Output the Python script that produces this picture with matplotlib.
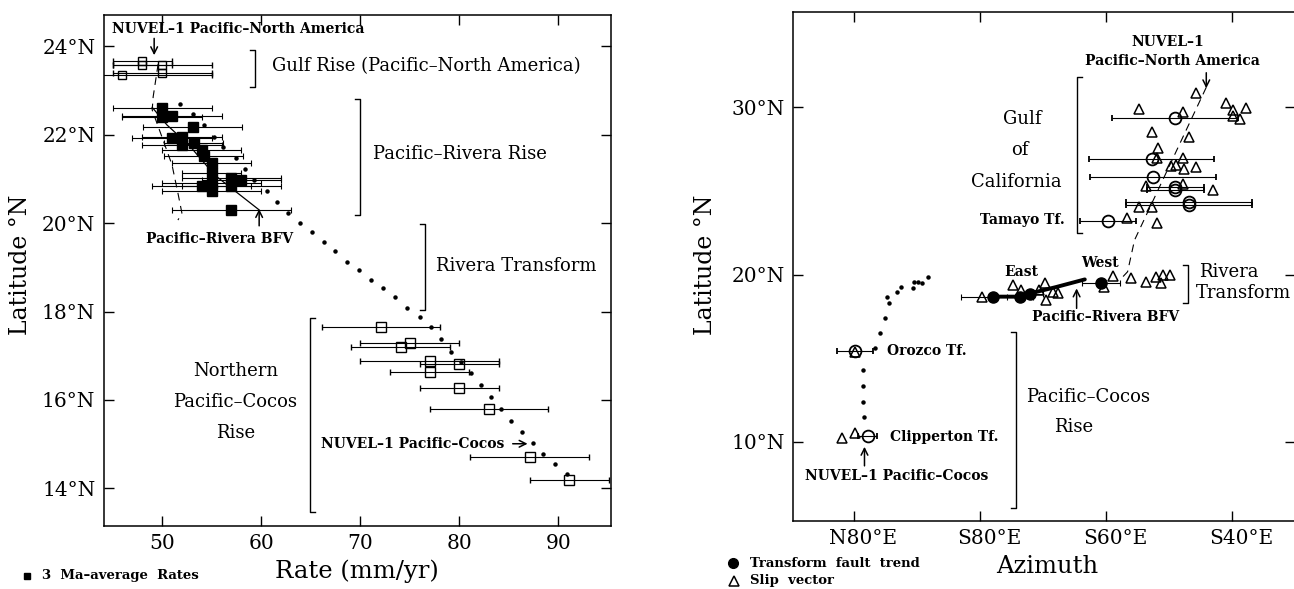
import matplotlib
matplotlib.use('Agg')
import matplotlib.pyplot as plt
import matplotlib.transforms as mtransforms
from matplotlib.lines import Line2D

plt.rcParams['font.family'] = 'DejaVu Serif'

#------------------------------------------------------------------------------
# Data: left panel (rate vs latitude)
#------------------------------------------------------------------------------

# Gulf Rise, open squares
gulf_rate = [48.0, 48.0, 50.0, 50.0, 46.0]
gulf_lat = [23.66, 23.58, 23.58, 23.39, 23.36]
gulf_err = [3, 3, 5, 5, 9]

# Pacific-Rivera Rise, 3 Ma-average rates (filled squares)
prr_rate = [50.0, 50.0, 51.0, 53.1, 51.0, 52.0, 52.0, 53.2, 54.0, 54.2,
            55.0, 55.0, 55.0, 55.0, 54.0, 57.0, 58.0, 57.0, 57.0]
prr_lat = [22.60, 22.41, 22.43, 22.17, 21.92, 21.96, 21.77, 21.81, 21.66, 21.51,
           21.36, 21.13, 20.91, 20.72, 20.83, 21.02, 20.98, 20.83, 20.30]
prr_err = [5, 4, 5, 5, 4, 4, 4, 3, 4, 4, 4, 3, 5, 5, 5, 5, 4, 5, 6]

# Northern Pacific-Cocos Rise, open squares
npc_rate = [72.1, 75.0, 74.1, 77.0, 77.0, 80.0, 80.0, 83.0, 87.1, 91.1]
npc_lat = [17.66, 17.29, 17.21, 16.88, 16.64, 16.82, 16.27, 15.80, 14.72, 14.19]
npc_err = [6, 5, 5, 7, 4, 4, 4, 6, 6, 4]

# NUVEL-1 Pacific-Cocos predicted rates (dots)
pc_rate = [51.8, 53.1, 54.2, 55.2, 56.2, 57.5, 58.4, 59.3, 60.6, 61.6, 62.7, 63.9,
           65.1, 66.3, 67.5, 68.7, 69.9, 71.1, 72.3, 73.5, 74.7, 76.0, 77.2, 78.2,
           79.2, 80.2, 81.2, 82.2, 83.2, 84.2, 85.2, 86.3, 87.4, 88.5, 89.7, 90.9]
pc_lat = [22.70, 22.47, 22.22, 21.96, 21.72, 21.47, 21.22, 20.98, 20.72, 20.47, 20.23, 20.01,
          19.81, 19.58, 19.36, 19.13, 18.93, 18.72, 18.53, 18.34, 18.08, 17.87, 17.65, 17.38,
          17.09, 16.85, 16.61, 16.33, 16.06, 15.79, 15.53, 15.27, 15.02, 14.78, 14.55, 14.33]

# NUVEL-1 Pacific-North America predicted rates (dashed)
pna_rate = [49.6, 49.1, 49.0, 50.1, 51.0, 51.6, 52.0, 51.6]
pna_lat = [23.60, 22.86, 22.56, 21.88, 21.32, 20.68, 20.23, 20.07]

# Pacific-Rivera best fitting vector (solid)
bfv_rate = [49.0, 50.5, 52.7, 55.3, 59.8]
bfv_lat = [22.62, 22.22, 21.77, 21.09, 20.30]

rate_ticks = [50, 60, 70, 80, 90]
lat_ticks_left = [14, 16, 18, 20, 22, 24]

#------------------------------------------------------------------------------
# Data: right panel (azimuth vs latitude)
#------------------------------------------------------------------------------

# Gulf of California slip vectors
gc_tri_az = [134.2, 125.2, 132.2, 139.1, 140.1, 142.2, 140.1, 141.2, 127.2, 133.1, 128.2, 128.0,
             132.2, 130.3, 131.1, 132.3, 134.2, 126.3, 132.2, 137.0, 125.2, 127.2, 123.3, 128.0]
gc_tri_lat = [30.87, 29.88, 29.74, 30.28, 29.84, 29.94, 29.48, 29.28, 28.54, 28.20, 27.55, 26.97,
              26.95, 26.49, 26.55, 26.29, 26.41, 25.30, 25.41, 25.05, 24.05, 24.05, 23.36, 23.06]

# Gulf of California transform fault trends (open circles)
gc_circ_az = [131.0, 127.2, 127.4, 131.0, 131.0, 133.2, 133.2, 120.3]
gc_circ_lat = [29.38, 26.90, 25.85, 25.25, 25.05, 24.35, 24.15, 23.19]
gc_circ_err = [10, 10, 10, 4.5, 4.5, 10, 10, 4.5]

# Rivera Transform fault trends (filled circles)
rt_circ_az = [102.0, 106.3, 107.9, 119.2]
rt_circ_lat = [18.68, 18.68, 18.86, 19.50]
rt_circ_err = [5, 2, 2, 3]

# Rivera Transform slip vectors
rt_tri_az = [100.2, 105.2, 106.5, 110.2, 109.4, 111.6, 112.3, 110.5,
             119.7, 121.1, 124.0, 126.4, 127.9, 129.0, 130.1, 128.7]
rt_tri_lat = [18.67, 19.37, 19.07, 19.51, 19.07, 18.97, 18.87, 18.47,
              19.27, 19.91, 19.77, 19.57, 19.87, 19.97, 19.97, 19.47]

# Pacific-Rivera BFV along the transform
rt_bfv_az = [102.0, 106.3, 108.0, 112.0, 116.6]
rt_bfv_lat = [18.68, 18.68, 18.88, 19.25, 19.71]

# Orozco and Clipperton transforms
pcr_circ_az = [80.1, 82.1]
pcr_circ_lat = [15.44, 10.34]
pcr_circ_err = [2.8, 1.5]
pcr_tri_az = [80.1, 78.0, 80.1]
pcr_tri_lat = [15.35, 10.20, 10.50]

# NUVEL-1 Pacific-Cocos predicted azimuths (dots)
track_az = [91.7, 90.7, 90.1, 89.5, 89.3, 87.4, 86.7, 85.1, 85.5, 84.9, 84.0, 83.3,
            81.4, 81.4, 81.4, 81.5]
track_lat = [19.87, 19.47, 19.57, 19.53, 19.17, 19.24, 18.97, 18.67, 18.28, 17.38, 16.52, 15.59,
             14.29, 13.33, 12.39, 11.49]

# NUVEL-1 Pacific-North America predicted azimuths (dashed)
pna_az = [135.9, 124.5, 123.4, 122.4]
pna_az_lat = [31.20, 22.06, 20.17, 19.77]

az_ticks = [80, 100, 120, 140]
az_labels = ['N80°E', 'S80°E', 'S60°E', 'S40°E']
lat_ticks_right = [10, 20, 30]


def bracket(ax, x, y0, y1, stub):
    # vertical bracket, stub > 0 points left, stub < 0 points right
    ax.plot([x - stub, x, x, x - stub], [y1, y1, y0, y0], color='k', lw=1.0)


def arrow(ax, tail, tip):
    ax.annotate('', xy=tip, xytext=tail,
                arrowprops=dict(arrowstyle='->', lw=1.1, color='k',
                                shrinkA=0, shrinkB=0, mutation_scale=12))


small = dict(fontsize=10, fontweight='bold')
mid = dict(fontsize=13)
ebar = dict(ecolor='k', elinewidth=0.8, capsize=2.5, capthick=0.8, ls='none')

# Plot figure with fix size
fig = plt.figure(figsize=(12.94, 5.89), dpi=100)
ax1 = fig.add_axes([0.0801, 0.1070, 0.3919, 0.8676])
ax2 = fig.add_axes([0.6131, 0.1154, 0.3877, 0.8647])

for ax in (ax1, ax2):
    ax.tick_params(direction='in', length=7.5, width=1.0, top=True, right=True,
                   labelsize=14.5, pad=6)
    for s in ax.spines.values():
        s.set_linewidth(1.1)

#------------------------------------------------------------------------------
# Left panel
#------------------------------------------------------------------------------

ax1.plot(pna_rate, pna_lat, color='k', lw=0.8, dashes=(7, 5))
ax1.plot(bfv_rate, bfv_lat, color='k', lw=0.9)
ax1.plot(pc_rate, pc_lat, 'o', color='k', ms=2.2, ls='none')

ax1.errorbar(gulf_rate, gulf_lat, xerr=gulf_err, fmt='s', ms=6, mfc='none', mec='k', mew=1.0, **ebar)
ax1.errorbar(prr_rate, prr_lat, xerr=prr_err, fmt='s', ms=7.5, mfc='k', mec='k', **ebar)
ax1.errorbar(npc_rate, npc_lat, xerr=npc_err, fmt='s', ms=7, mfc='none', mec='k', mew=1.0, **ebar)

ax1.set_xlim(44.1, 95.3)
ax1.set_ylim(13.15, 24.71)
ax1.set_xticks(rate_ticks)
ax1.set_yticks(lat_ticks_left, labels=['%d°N' % t for t in lat_ticks_left])

# Brackets and labels
bracket(ax1, 59.4, 23.09, 23.92, 0.5)
ax1.text(61.1, 23.56, 'Gulf Rise (Pacific–North America)', va='center', **mid)
bracket(ax1, 70.0, 20.19, 22.81, 0.5)
ax1.text(71.3, 21.57, 'Pacific–Rivera Rise', va='center', **mid)
bracket(ax1, 76.5, 18.04, 19.98, 0.5)
ax1.text(77.7, 19.02, 'Rivera Transform', va='center', **mid)
bracket(ax1, 64.9, 13.46, 17.85, -0.5)
ax1.text(57.4, 16.66, 'Northern', ha='center', va='center', **mid)
ax1.text(57.4, 15.96, 'Pacific–Cocos', ha='center', va='center', **mid)
ax1.text(57.4, 15.26, 'Rise', ha='center', va='center', **mid)

ax1.text(44.9, 24.39, 'NUVEL–1 Pacific–North America', va='center', **small)
arrow(ax1, (49.2, 24.18), (49.2, 23.80))
ax1.text(55.8, 19.64, 'Pacific–Rivera BFV', ha='center', va='center', **small)
arrow(ax1, (59.8, 19.94), (59.8, 20.32))
ax1.text(66.0, 15.01, 'NUVEL–1 Pacific–Cocos', va='center', **small)
arrow(ax1, (85.4, 15.01), (86.9, 15.01))

#------------------------------------------------------------------------------
# Right panel
#------------------------------------------------------------------------------

ax2.plot(pna_az, pna_az_lat, color='k', lw=0.8, dashes=(7, 5))
ax2.plot(track_az, track_lat, 'o', color='k', ms=2.2, ls='none')
ax2.plot(rt_bfv_az, rt_bfv_lat, color='k', lw=2.8, solid_capstyle='round')

ax2.errorbar(gc_circ_az, gc_circ_lat, xerr=gc_circ_err, fmt='o', ms=8.5, mfc='none', mec='k', mew=1.3, **ebar)
ax2.errorbar(rt_circ_az, rt_circ_lat, xerr=rt_circ_err, fmt='o', ms=8, mfc='k', mec='k', **ebar)
ax2.errorbar(pcr_circ_az, pcr_circ_lat, xerr=pcr_circ_err, fmt='o', ms=8.5, mfc='none', mec='k', mew=1.3, **ebar)
ax2.plot(gc_tri_az, gc_tri_lat, '^', ms=7.5, mfc='none', mec='k', mew=1.1, ls='none')
ax2.plot(rt_tri_az, rt_tri_lat, '^', ms=7.5, mfc='none', mec='k', mew=1.1, ls='none')
ax2.plot(pcr_tri_az, pcr_tri_lat, '^', ms=7, mfc='none', mec='k', mew=1.1, ls='none')

ax2.set_xlim(70.3, 150.0)
ax2.set_ylim(5.26, 35.72)
ax2.set_xticks(az_ticks, labels=az_labels)
ax2.set_yticks(lat_ticks_right, labels=['%d°N' % t for t in lat_ticks_right])
ax2.spines['right'].set_visible(False)

# Tick labels sit a little right of their ticks
offset = mtransforms.ScaledTranslation(0.09, 0, fig.dpi_scale_trans)
for lab in ax2.get_xticklabels():
    lab.set_transform(lab.get_transform() + offset)

bracket(ax2, 115.4, 22.46, 31.83, -0.8)
ax2.text(106.7, 29.3, 'Gulf', ha='center', va='center', **mid)
ax2.text(106.2, 27.45, 'of', ha='center', va='center', **mid)
ax2.text(105.7, 25.55, 'California', ha='center', va='center', **mid)
ax2.text(113.4, 23.26, 'Tamayo Tf.', ha='right', va='center', **small)

ax2.text(129.8, 33.92, 'NUVEL–1', ha='center', va='center', **small)
ax2.text(130.5, 32.79, 'Pacific–North America', ha='center', va='center', **small)
arrow(ax2, (135.9, 32.07), (135.9, 31.14))

ax2.text(106.5, 20.17, 'East', ha='center', va='center', **small)
ax2.text(119.0, 20.70, 'West', ha='center', va='center', **small)
ax2.text(119.9, 17.48, 'Pacific–Rivera BFV', ha='center', va='center', **small)
arrow(ax2, (115.3, 17.98), (115.3, 19.17))

bracket(ax2, 133.0, 18.28, 20.57, 0.8)
ax2.text(139.4, 20.17, 'Rivera', ha='center', va='center', **mid)
ax2.text(134.2, 18.87, 'Transform', ha='left', va='center', **mid)

ax2.text(85.1, 15.44, 'Orozco Tf.', va='center', **small)
ax2.text(85.6, 10.30, 'Clipperton Tf.', va='center', **small)
arrow(ax2, (81.6, 8.56), (81.6, 9.70))
ax2.text(86.7, 7.97, 'NUVEL–1 Pacific–Cocos', ha='center', va='center', **small)

bracket(ax2, 105.6, 6.02, 16.54, 0.8)
ax2.text(117.1, 12.69, 'Pacific–Cocos', ha='center', va='center', **mid)
ax2.text(114.9, 10.86, 'Rise', ha='center', va='center', **mid)

#------------------------------------------------------------------------------
# Axis names and legends
#------------------------------------------------------------------------------

fig.text(0.2759, 0.0294, 'Rate (mm/yr)', ha='center', va='center', fontsize=17.5)
fig.text(0.8090, 0.0379, 'Azimuth', ha='center', va='center', fontsize=17.5)
fig.text(0.0155, 0.55, 'Latitude °N', rotation=90, ha='center', va='center', fontsize=17)
fig.text(0.5451, 0.55, 'Latitude °N', rotation=90, ha='center', va='center', fontsize=17)

fig.add_artist(Line2D([0.0208], [0.0221], transform=fig.transFigure, marker='s', ms=5, color='k'))
fig.text(0.0321, 0.0221, '3  Ma–average  Rates', va='center', fontsize=9.5, fontweight='bold')
fig.add_artist(Line2D([0.5662], [0.0436], transform=fig.transFigure, marker='o', ms=7, color='k'))
fig.text(0.5798, 0.0436, 'Transform  fault  trend', va='center', fontsize=9.5, fontweight='bold')
fig.add_artist(Line2D([0.5672], [0.0141], transform=fig.transFigure, marker='^', ms=6.5,
                      mfc='none', mec='k', mew=1.1))
fig.text(0.5798, 0.0141, 'Slip  vector', va='center', fontsize=9.5, fontweight='bold')

# Save figure
plt.savefig('out.png', dpi=100)
